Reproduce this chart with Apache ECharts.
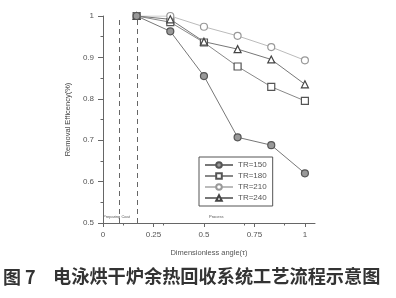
<!DOCTYPE html>
<html><head><meta charset="utf-8">
<script src="https://cdn.jsdelivr.net/npm/echarts@6/dist/echarts.min.js"></script>
<style>html,body{margin:0;padding:0;background:#fff}#c{width:396px;height:298px}</style>
</head><body><div id="c"></div>
<script>
const xVals = [1/6, 1/3, 1/2, 2/3, 5/6, 1];
const tr150 = [1.0, 0.963, 0.855, 0.707, 0.688, 0.620];
const tr180 = [1.0, 0.985, 0.936, 0.878, 0.829, 0.795];
const tr210 = [1.0, 1.0, 0.974, 0.952, 0.925, 0.893];
const tr240 = [1.0, 0.992, 0.938, 0.920, 0.895, 0.835];
const seriesNames = ['TR=150', 'TR=180', 'TR=210', 'TR=240'];
const xTicks = [0, 0.25, 0.5, 0.75, 1];
const phaseLines = [0.08, 1/6];

const chart = echarts.init(document.getElementById('c'));
const pair = arr => arr.map((v, i) => [xVals[i], v]);
const mk = (name, data, symbol, lineColor, symColor, fill) => ({
  name, type: 'line', data: pair(data), symbol, symbolSize: 7,
  lineStyle: { color: lineColor, width: 1 },
  itemStyle: { color: fill, borderColor: symColor, borderWidth: 1.2 },
  emphasis: { disabled: true }
});
const s1 = mk(seriesNames[0], tr150, 'circle', '#777', '#555', '#999');
s1.markLine = {
  silent: true, symbol: 'none', label: { show: false },
  lineStyle: { type: [5, 4], color: '#666', width: 1 },
  data: phaseLines.map(v => ({ xAxis: v }))
};
s1.z = 5;
chart.setOption({
  animation: false,
  grid: { left: 103, right: 81, top: 16, bottom: 75 },
  xAxis: {
    type: 'value', min: 0, max: 1.05,
    name: 'Dimensionless angle(τ)', nameLocation: 'middle', nameGap: 26,
    nameTextStyle: { fontSize: 7.5, color: '#555', fontFamily: 'Liberation Sans' },
    axisLine: { lineStyle: { color: '#666' } },
    axisTick: { show: true, customValues: xTicks, length: 4, lineStyle: { color: '#666' } },
    minorTick: { show: true, splitNumber: 2, length: 2.5, lineStyle: { color: '#666' } },
    axisLabel: { customValues: xTicks, fontSize: 8, color: '#555', fontFamily: 'Liberation Sans', margin: 8 },
    splitLine: { show: false }
  },
  yAxis: {
    type: 'value', min: 0.5, max: 1, interval: 0.1,
    name: 'Removal Efficency(%)', nameLocation: 'middle', nameGap: 31,
    nameTextStyle: { fontSize: 7.5, color: '#444', fontFamily: 'Liberation Sans' },
    axisLine: { show: true, lineStyle: { color: '#666' } },
    axisTick: { show: true, length: 5, lineStyle: { color: '#666' } },
    minorTick: { show: true, splitNumber: 2, length: 2.5, lineStyle: { color: '#666' } },
    axisLabel: { fontSize: 8, color: '#555', fontFamily: 'Liberation Sans', margin: 9 },
    splitLine: { show: false }
  },
  legend: {
    orient: 'vertical', left: 199, top: 157, width: 73,
    data: seriesNames,
    itemWidth: 28, itemHeight: 7, itemGap: 3, padding: [4, 6, 4, 5],
    borderColor: '#555', borderWidth: 1,
    textStyle: { fontSize: 8, color: '#555', fontFamily: 'Liberation Sans' }
  },
  series: [
    s1,
    mk(seriesNames[1], tr180, 'rect', '#888', '#555', '#fff'),
    mk(seriesNames[2], tr210, 'circle', '#bbb', '#999', '#fff'),
    mk(seriesNames[3], tr240, 'triangle', '#777', '#444', '#fff')
  ],
  graphic: [
    { type: 'text', left: 103, top: 215, style: { text: 'Preparing Coat', fontSize: 4, fill: '#555', fontFamily: 'Liberation Sans' } },
    { type: 'text', left: 209, top: 215, style: { text: 'Process', fontSize: 4, fill: '#555', fontFamily: 'Liberation Sans' } },
    { type: 'text', left: 3, top: 268, style: { text: '图 7', fontSize: 18, fontWeight: 'bold', fill: '#333', fontFamily: 'Noto Sans CJK SC' } },
    { type: 'text', left: 53, top: 267, style: { text: '电泳烘干炉余热回收系统工艺流程示意图', fontSize: 18.2, fontWeight: 'bold', fill: '#333', fontFamily: 'Noto Sans CJK SC' } }
  ]
});
</script></body></html>
